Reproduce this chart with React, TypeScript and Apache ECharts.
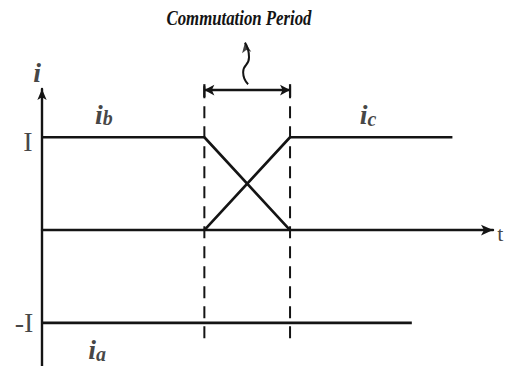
import React, { useEffect, useRef } from "react";
import * as echarts from "echarts";

// time axis (arbitrary units, 0..100) and current levels (I = 1)
const X_MIN = 0;
const X_MAX = 100;
const Y_MIN = -1.465;
const Y_MAX = 1.52;

const I_LEVEL = 1;
const NEG_I_LEVEL = -1;
const T_START = 36; // commutation start
const T_END = 55; // commutation end
const IC_END = 91;
const IA_END = 82;

const ibPoints: [number, number][] = [
  [0, I_LEVEL],
  [T_START, I_LEVEL],
  [T_END, 0],
];
const icPoints: [number, number][] = [
  [T_START, 0],
  [T_END, I_LEVEL],
  [IC_END, I_LEVEL],
];
const iaPoints: [number, number][] = [
  [0, NEG_I_LEVEL],
  [IA_END, NEG_I_LEVEL],
];
const DASH_TOP = 1.55;
const DASH_BOTTOM = -1.22;
const PERIOD_ARROW_Y = 1.508;
const BAR_TOP = 1.572;
const BAR_BOTTOM = 1.433;
const squigglePoints: [number, number][] = [
  [45.7, 1.572],
  [44.6, 1.7],
  [45.9, 1.861],
  [45.0, 2.02],
];

const INK = "#141414";
const SERIF = "'Liberation Serif', 'DejaVu Serif', serif";

const lineSeries = (data: [number, number][], extra: any = {}) => {
  const { lineStyle, ...rest } = extra;
  return {
    type: "line",
    data,
    symbol: "none",
    clip: false,
    silent: true,
    itemStyle: { color: INK },
    lineStyle: { color: INK, width: 2.6, ...(lineStyle || {}) },
    ...rest,
  };
};

const italicLabel = (main: string, sub: string) => ({
  show: true,
  position: "inside",
  formatter: sub ? `{m|${main}}{s|${sub}}` : `{m|${main}}`,
  rich: {
    m: {
      fontFamily: SERIF,
      fontStyle: "italic",
      fontWeight: "bold",
      fontSize: 28,
      color: INK,
      verticalAlign: "bottom",
    },
    s: {
      fontFamily: SERIF,
      fontStyle: "italic",
      fontWeight: "bold",
      fontSize: 20,
      color: INK,
      verticalAlign: "bottom",
    },
  },
});

const plainLabel = (text: string, size: number, extra: any = {}) => ({
  show: true,
  position: "inside",
  formatter: text,
  fontFamily: SERIF,
  fontSize: size,
  color: INK,
  ...extra,
});

export default function App() {
  const ref = useRef<HTMLDivElement>(null);
  useEffect(() => {
    if (!ref.current) return;
    const chart = echarts.init(ref.current, null, { renderer: "svg" });
    const option: any = {
      animation: false,
      backgroundColor: "#ffffff",
      grid: { left: 42, right: 15, top: 89, bottom: 0 },
      graphic: [
        {
          type: "text",
          x: 239,
          y: 18,
          scaleX: 0.8,
          silent: true,
          style: {
            text: "Commutation Period",
            fontFamily: SERIF,
            fontStyle: "italic",
            fontWeight: "bold",
            fontSize: 21,
            fill: INK,
            align: "center",
            verticalAlign: "middle",
          },
        },
      ],
      xAxis: {
        type: "value",
        min: X_MIN,
        max: X_MAX,
        axisLine: {
          show: true,
          onZero: true,
          symbol: ["none", "arrow"],
          symbolSize: [8, 12],
          lineStyle: { color: INK, width: 2.4 },
        },
        axisTick: { show: false },
        axisLabel: { show: false },
        splitLine: { show: false },
      },
      yAxis: {
        type: "value",
        min: Y_MIN,
        max: Y_MAX,
        axisLine: {
          show: true,
          onZero: false,
          symbol: ["none", "arrow"],
          symbolSize: [7, 11],
          lineStyle: { color: INK, width: 2.4 },
        },
        axisTick: { show: false },
        axisLabel: { show: false },
        splitLine: { show: false },
      },
      series: [
        lineSeries(ibPoints),
        lineSeries(icPoints),
        lineSeries(iaPoints),
        lineSeries(
          [
            [T_START, DASH_TOP],
            [T_START, DASH_BOTTOM],
          ],
          { lineStyle: { width: 2, type: [12, 8] } }
        ),
        lineSeries(
          [
            [T_END, DASH_TOP],
            [T_END, DASH_BOTTOM],
          ],
          { lineStyle: { width: 2, type: [12, 8] } }
        ),
        lineSeries(
          [
            [T_START, BAR_TOP],
            [T_START, BAR_BOTTOM],
          ],
          { lineStyle: { width: 2.2 } }
        ),
        lineSeries(
          [
            [T_END, BAR_TOP],
            [T_END, BAR_BOTTOM],
          ],
          { lineStyle: { width: 2.2 } }
        ),
        {
          type: "line",
          data: [],
          silent: true,
          markLine: {
            silent: true,
            symbol: ["arrow", "arrow"],
            symbolSize: [8, 10],
            label: { show: false },
            itemStyle: { color: INK },
            lineStyle: { color: INK, width: 2.4, type: "solid" },
            data: [
              [
                { coord: [T_START, PERIOD_ARROW_Y] },
                { coord: [T_END, PERIOD_ARROW_Y] },
              ],
            ],
          },
        },
        lineSeries(squigglePoints, {
          smooth: 0.6,
          lineStyle: { width: 2 },
        }),
        {
          type: "scatter",
          clip: false,
          silent: true,
          symbol: "arrow",
          symbolSize: [7, 10],
          symbolRotate: 10,
          itemStyle: { color: INK },
          data: [squigglePoints[squigglePoints.length - 1]],
        },
        {
          type: "scatter",
          clip: false,
          silent: true,
          symbolSize: 0,
          itemStyle: { color: INK },
          data: [
            { value: [-1.1, 1.7], label: italicLabel("i", "") },
            { value: [-3.1, 0.95], label: plainLabel("I", 28) },
            { value: [-4.0, -1.0], label: plainLabel("-I", 28) },
            { value: [101.6, -0.04], label: plainLabel("t", 22) },
            { value: [13.7, 1.25], label: italicLabel("i", "b") },
            { value: [72.3, 1.24], label: italicLabel("i", "c") },
            { value: [12.2, -1.29], label: italicLabel("i", "a") },
          ],
        },
      ],
    };
    chart.setOption(option);
    return () => chart.dispose();
  }, []);
  return (
    <div
      ref={ref}
      style={{ position: "fixed", left: 0, top: 0, width: 508, height: 366, background: "#fff" }}
    />
  );
}
